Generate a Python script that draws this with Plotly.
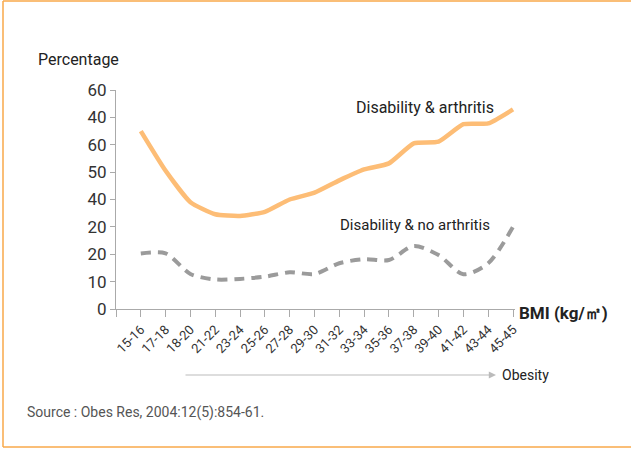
import plotly.graph_objects as go

categories = ["15-16", "17-18", "18-20", "21-22", "23-24", "25-26",
              "27-28", "29-30", "31-32", "33-34", "35-36", "37-38",
              "39-40", "41-42", "43-44", "45-45"]
arthritis = [65, 50.5, 39, 34.6, 34, 35.5, 40, 42.5, 47, 51, 53.2, 60.5, 61.1, 67.5, 67.8, 72.9]
no_arthritis = [20.3, 20.3, 12.8, 10.8, 11, 11.8, 13.4, 12.8, 16.7, 18.2, 17.9, 23, 19.7, 12.7, 16.7, 30]
y_tickvals = [0, 10, 20, 30, 40, 50, 60, 70, 80]
y_ticktext = ["0", "10", "20", "20", "40", "50", "60", "40", "60"]

W, H = 631, 449
L, R, T, B = 116, 116, 90, 140
PW, PH = W - L - R, H - T - B

def px(x):
    return (x - L) / PW

def py(y):
    return (H - B - y) / PH

FONT = "Roboto"
xpos = list(range(len(categories)))

fig = go.Figure()
fig.add_trace(go.Scatter(x=xpos, y=arthritis, mode="lines",
                         line=dict(color="#FDBD76", width=4.5, shape="spline", smoothing=0.5),
                         hoverinfo="skip"))
fig.add_trace(go.Scatter(x=xpos, y=no_arthritis, mode="lines",
                         line=dict(color="#9B9B9B", width=4, shape="spline", smoothing=0.8,
                                   dash="10px,7px"),
                         hoverinfo="skip"))

fig.update_layout(
    width=W, height=H, margin=dict(l=L, r=R, t=T, b=B),
    paper_bgcolor="white", plot_bgcolor="white", showlegend=False,
    font=dict(family=FONT, color="#333"),
    xaxis=dict(range=[-1, 15.08], tickvals=[-1] + xpos, ticktext=[""] + categories,
               tickangle=-45, tickfont=dict(size=13, color="#333"),
               showgrid=False, zeroline=False, showline=True, linecolor="#AAAAAA",
               linewidth=1, ticks="outside", ticklen=7, tickcolor="#AAAAAA"),
    yaxis=dict(range=[0, 80], tickvals=y_tickvals, ticktext=y_ticktext,
               tickfont=dict(size=17, color="#333"),
               showgrid=False, zeroline=False, showline=True, linecolor="#AAAAAA",
               linewidth=1, ticks="outside", ticklen=5, tickcolor="#AAAAAA"),
)

annos = [
    dict(x=px(36), y=py(60), text="Percentage", xanchor="left", yanchor="middle",
         font=dict(size=16, color="#222")),
    dict(x=px(517), y=py(313), text="<b>BMI (kg/\u33a1)</b>", xanchor="left", yanchor="middle",
         font=dict(size=17, color="#222")),
    dict(x=px(425), y=py(107), text="Disability &amp; arthritis", xanchor="center", yanchor="middle",
         font=dict(size=16, color="#222")),
    dict(x=px(415), y=py(225), text="Disability &amp; no arthritis", xanchor="center", yanchor="middle",
         font=dict(size=15, color="#222")),
    dict(x=px(500), y=py(375), text="Obesity", xanchor="left", yanchor="middle",
         font=dict(size=14, color="#222")),
    dict(x=px(25), y=py(412), text="Source : Obes Res, 2004:12(5):854-61.", xanchor="left", yanchor="middle",
         font=dict(size=14, color="#555")),
]
for a in annos:
    a.update(xref="paper", yref="paper", showarrow=False)
    fig.add_annotation(**a)

fig.add_annotation(xref="paper", yref="paper", x=px(496), y=py(375), ax=-(496 - 184), ay=0,
                   axref="pixel", ayref="pixel", text="", showarrow=True, arrowhead=2,
                   arrowsize=1.2, arrowwidth=1.2, arrowcolor="#BBBBBB")

border = "#F9A84A"
for x0, y0, x1, y1 in [(3, 1, 640, 1), (3, 1, 3, 447), (3, 447, 640, 447)]:
    fig.add_shape(type="line", xref="paper", yref="paper", x0=px(x0), y0=py(y0),
                  x1=px(x1), y1=py(y1), line=dict(color=border, width=1.5))

fig.write_html("out.html")
